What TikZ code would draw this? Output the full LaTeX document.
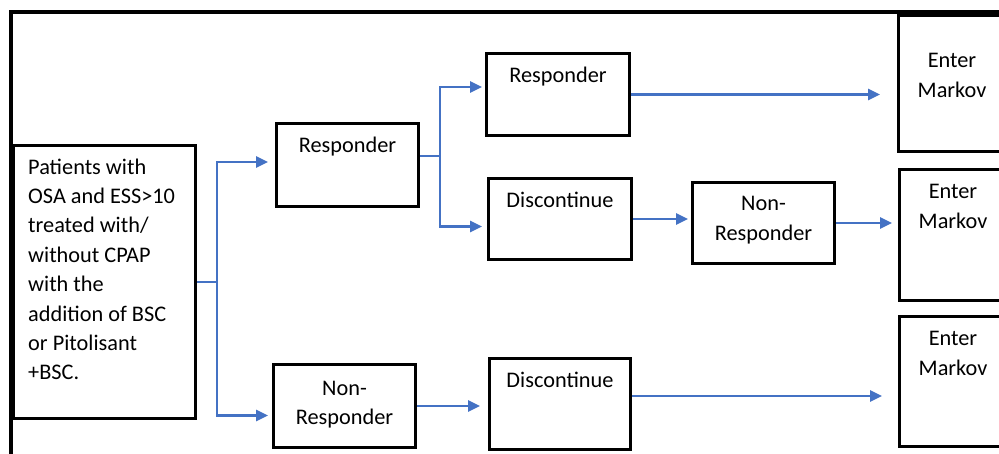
\documentclass[tikz,border=0pt]{standalone}
\usepackage{fontspec}
\setmainfont{Carlito}
\usetikzlibrary{arrows.meta,calc,positioning}
\definecolor{flowblue}{RGB}{68,114,196}

\begin{document}
\begin{tikzpicture}[x=1pt,y=-1pt, every node/.style={anchor=north west},
	box/.style={draw,line width=3pt,inner sep=0pt},
	tag/.style={anchor=base,inner sep=0pt,align=center,font=\fontsize{22.3}{29.4}\selectfont,yshift=-#1pt},
	tag/.default=31,
	flow/.style={draw=flowblue,line width=2.5pt,-{Triangle[length=12pt,width=11pt]}}]
			\clip (0,0) rectangle (999,454);
			\draw[line width=4pt] (11,12) rectangle (1030,490);
			\node[box,minimum width=182pt,minimum height=273pt,label={[tag=235.8,anchor=base west,align=left,xshift=16pt]north west:Patients with\\OSA and ESS>10\\treated with/\\without CPAP\\with the\\addition of BSC\\or Pitolisant\\+BSC.}] (start) at (12,144) {};
			\node[box,minimum width=142pt,minimum height=83pt,label={[tag]north:Responder}] (resp1) at (275,122) {};
			\node[box,minimum width=142pt,minimum height=83pt,label={[tag=61.4]north:Non-\\Responder}] (nonresp1) at (272,363) {};
			\node[box,minimum width=143pt,minimum height=82pt,label={[tag]north:Responder}] (resp2) at (485,52) {};
			\node[box,minimum width=143pt,minimum height=81pt,label={[tag]north:Discontinue}] (disc1) at (487,177) {};
			\node[box,minimum width=141pt,minimum height=91pt,label={[tag]north:Discontinue}] (disc2) at (488,357) {};
			\node[box,minimum width=142pt,minimum height=81pt,label={[tag=59.4]north:Non-\\Responder}] (nonresp2) at (691,181) {};
			\node[box,minimum width=107pt,minimum height=136pt,label={[tag=83.4]north:Enter\\Markov}] (markov1) at (897,14) {};
			\node[box,minimum width=107pt,minimum height=131pt,label={[tag=60.4]north:Enter\\Markov}] (markov2) at (898,168) {};
			\node[box,minimum width=107pt,minimum height=130pt,label={[tag=60.4]north:Enter\\Markov}] (markov3) at (898,315) {};
			\draw[flow,shorten >=7pt] (start.east) -- ++(20,0) |- ([yshift=3pt]resp1.west);
			\draw[flow,shorten >=4pt] (start.east) -- ++(20,0) |- ([yshift=-9.5pt]nonresp1.west);
			\draw[flow,shorten >=3pt] ([yshift=9pt]resp1.east) -- ++(20,0) |- ([yshift=7.5pt]resp2.west);
			\draw[flow,shorten >=5pt] ([yshift=9pt]resp1.east) -- ++(20,0) |- ([yshift=-7.5pt]disc1.west);
			\draw[flow,shorten >=8pt] (nonresp1.east) -- (nonresp1.east -| disc2.west);
			\draw[flow,shorten >=17pt] (resp2.east) -- (resp2.east -| markov1.west);
			\draw[flow,shorten >=3pt] (disc1.east) -- (disc1.east -| nonresp2.west);
			\draw[flow,shorten >=6pt] (nonresp2.east) -- (nonresp2.east -| markov2.west);
			\draw[flow,shorten >=16pt] ([yshift=8pt]disc2.east) -- ([yshift=8pt]disc2.east -| markov3.west);
		\end{tikzpicture}
\end{document}
